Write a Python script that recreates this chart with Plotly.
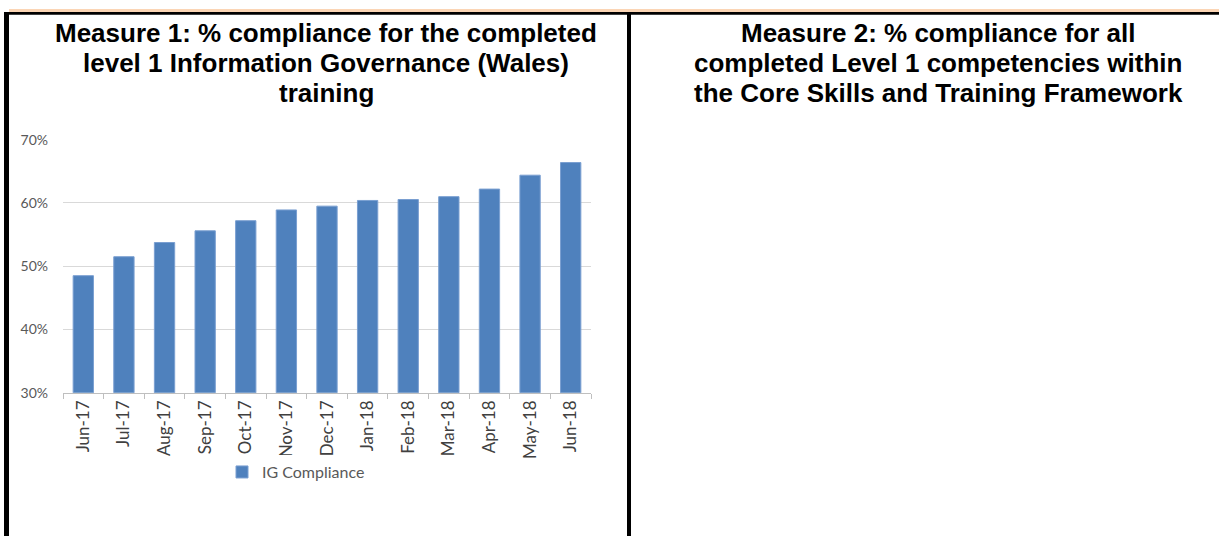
import plotly.graph_objects as go

W, H = 1219, 544

months = ["Jun-17", "Jul-17", "Aug-17", "Sep-17", "Oct-17", "Nov-17", "Dec-17",
          "Jan-18", "Feb-18", "Mar-18", "Apr-18", "May-18", "Jun-18"]
ig_compliance = [0.485, 0.515, 0.5375, 0.556, 0.572, 0.589, 0.595,
                 0.604, 0.6055, 0.610, 0.622, 0.644, 0.664]
series_name = "IG Compliance"
y_ticks = [0.3, 0.4, 0.5, 0.6, 0.7]

title_left = ["Measure 1: % compliance for the completed",
              "level 1 Information Governance (Wales)",
              "training"]
title_right = ["Measure 2: % compliance for all",
               "completed Level 1 competencies within",
               "the Core Skills and Training Framework"]


def px_x(x):
    return x / W


def px_y(y):
    return 1 - y / H


fig = go.Figure()
fig.add_trace(go.Bar(
    x=months, y=ig_compliance, name=series_name,
    marker=dict(color="#4F81BD", line=dict(color="#7A9FD1", width=1)),
    width=0.5,
))

fig.update_layout(
    width=W, height=H,
    margin=dict(l=0, r=0, t=0, b=0),
    paper_bgcolor="white", plot_bgcolor="white",
    showlegend=True,
    legend=dict(orientation="h", x=px_x(296), xanchor="center",
                y=px_y(478), yanchor="middle",
                font=dict(family="Lato", size=16, color="#595959"),
                itemwidth=30),
    bargap=0.5,
    xaxis=dict(domain=[px_x(63), px_x(591)],
               showline=True, linecolor="#BFBFBF", linewidth=1,
               ticks="outside", tickson="boundaries", ticklen=5, tickcolor="#BFBFBF",
               tickangle=-90, tickfont=dict(family="Lato", size=17, color="#404040"),
               showgrid=False),
    yaxis=dict(domain=[px_y(396), px_y(135)], range=[0.3, 0.7],
               tickvals=y_ticks, tickformat=".0%",
               showgrid=True, gridcolor="#D9D9D9", gridwidth=1,
               zeroline=False, showline=False, ticks="",
               ticklabelstandoff=14,
               tickfont=dict(family="Lato", size=14, color="#595959")),
    font=dict(family="Lato"),
)

shapes = [
    dict(type="rect", xref="paper", yref="paper", x0=px_x(9), x1=1, y0=px_y(0), y1=px_y(3),
         fillcolor="#FBD5B5", line=dict(width=0), layer="above"),
    dict(type="rect", xref="paper", yref="paper", x0=px_x(4), x1=1, y0=px_y(3), y1=px_y(6),
         fillcolor="black", line=dict(width=0), layer="above"),
    dict(type="rect", xref="paper", yref="paper", x0=px_x(4), x1=px_x(9), y0=0, y1=px_y(3),
         fillcolor="black", line=dict(width=0), layer="above"),
    dict(type="rect", xref="paper", yref="paper", x0=px_x(627), x1=px_x(631), y0=0, y1=px_y(3),
         fillcolor="black", line=dict(width=0), layer="above"),
]
fig.update_layout(shapes=shapes)

title_font = dict(family="Liberation Sans", size=26, color="black")
line_centres = [25, 56, 87]
for cx, lines in ((326, title_left), (938, title_right)):
    for yc, line in zip(line_centres, lines):
        fig.add_annotation(text="<b>" + line + "</b>",
                           xref="paper", yref="paper", x=px_x(cx), y=px_y(yc),
                           xanchor="center", yanchor="middle", showarrow=False,
                           font=title_font, align="center")

page_fix = (
    "var de=document.documentElement, b=document.body;"
    "[de,b].forEach(function(e){e.style.margin='0';e.style.padding='0';e.style.overflow='hidden';});"
)
fig.write_html("out.html", config={"displayModeBar": False}, post_script=page_fix)
